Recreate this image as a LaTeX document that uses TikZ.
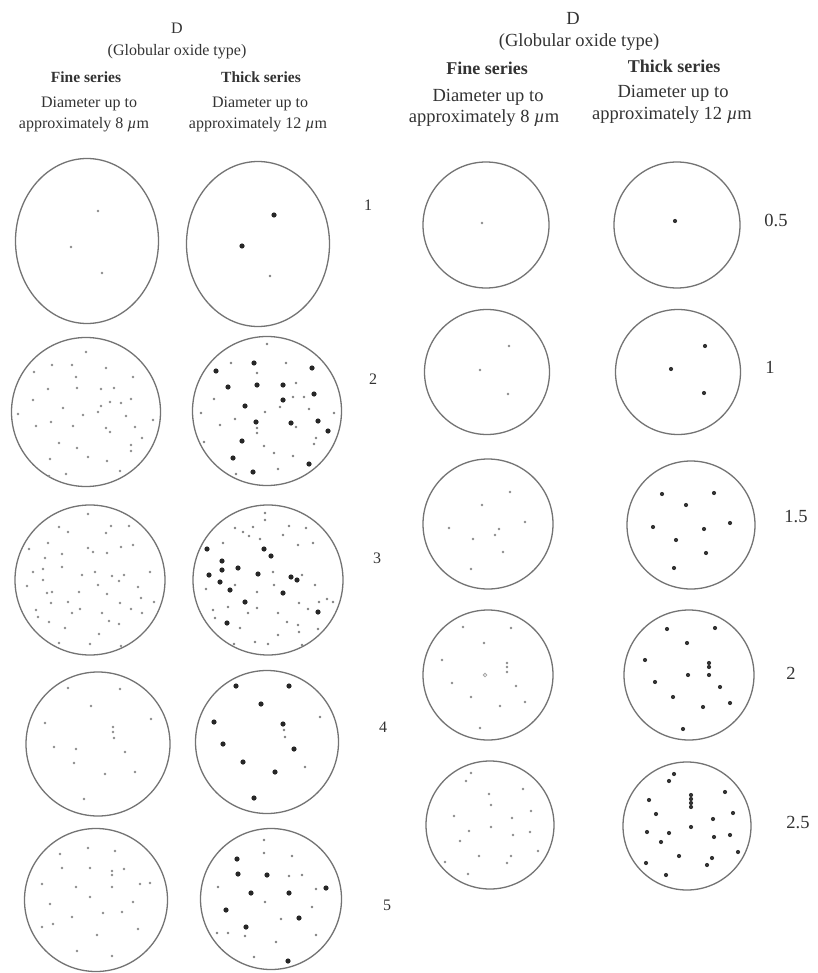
\documentclass[tikz,border=0pt]{standalone}
\usepackage{fontspec}
\setmainfont{Liberation Serif}
\tikzset{
  ring/.style={draw=black!55, line width=1.3pt},
  fdot/.style={fill=black!45},
  sdot/.style={fill=black!50},
  bdot/.style={fill=black!85},
  mdot/.style={fill=black!80},
  txt/.style={text=black!80, inner sep=0pt, align=center},
  lt/.style={txt, font=\fontsize{16}{18}\selectfont},
  lb/.style={txt, font=\fontsize{15.5}{18}\selectfont\bfseries},
  rt/.style={txt, font=\fontsize{18.5}{21}\selectfont},
  rb/.style={txt, font=\fontsize{18}{21}\selectfont\bfseries},
}
\newcommand{\fdots}[1]{\foreach \p in {#1} {\fill[fdot] \p circle (1.45pt);}}
\newcommand{\sdots}[1]{\foreach \p in {#1} {\fill[sdot] \p circle (1.45pt);}}
\newcommand{\bdots}[1]{\foreach \p in {#1} {\fill[bdot] \p circle (2.6pt);}}
\newcommand{\mdots}[1]{\foreach \p in {#1} {\fill[mdot] \p circle (2.1pt);}}
\begin{document}
\begin{tikzpicture}[x=1pt,y=-1pt]
\useasboundingbox[fill=white] (0,0) rectangle (817,973);

% ---------- left headers ----------
\node[lt] (lD) at (177,28) {D};
\node[lt] (lG) at (177,52) {(Globular oxide type)};
\node[lb] (lF) at (86,77) {Fine series};
\node[lb] (lT) at (261,77) {Thick series};
\node[lt] (lFd) at (89,104) {Diameter up to};
\node[lt] (lFa) at (84,125) {approximately 8 \textit{µ}m};
\node[lt] (lTd) at (260,104) {Diameter up to};
\node[lt] (lTa) at (258,125) {approximately 12 \textit{µ}m};

% ---------- right headers ----------
\node[rt] (rD) at (573,18) {D};
\node[rt] (rG) at (579,42) {(Globular oxide type)};
\node[rb] (rF) at (487,68) {Fine series};
\node[rb] (rT) at (674,66) {Thick series};
\node[rt] (rFd) at (488,97) {Diameter up to};
\node[rt] (rFa) at (484,118) {approximately 8 \textit{µ}m};
\node[rt] (rTd) at (673,93) {Diameter up to};
\node[rt] (rTa) at (672,115) {approximately 12 \textit{µ}m};

% ---------- left panel rings ----------
\draw[ring] (87,241) ellipse [x radius=71.5pt, y radius=82.5pt];
\draw[ring] (258,244) ellipse [x radius=71.5pt, y radius=82.5pt];
\draw[ring] (86,412) circle (74.5pt);
\draw[ring] (267,411) circle (74.5pt);
\draw[ring] (90,580) circle (75pt);
\draw[ring] (268,580) circle (75pt);
\draw[ring] (98,744) circle (72pt);
\draw[ring] (267,742) circle (71.5pt);
\draw[ring] (96,900) circle (71.5pt);
\draw[ring] (271,899) circle (70.5pt);

% left labels
\node[lt] (l1) at (368,205) {1};
\node[lt] (l2) at (373,379) {2};
\node[lt] (l3) at (377,558) {3};
\node[lt] (l4) at (383,727) {4};
\node[lt] (l5) at (387,905) {5};

% row 1
\fdots{(98,211),(71,247),(102,273)}
\bdots{(274,215),(242,246)}
\sdots{(270,276)}

% row 2 fine
\fdots{(86,352),(52,365),(72,365),(106,368),(34,372),(76,377),(133,377),(48,389),(77,388),(101,389),(114,388),(33,400),(110,402),(121,403),(131,399),(63,408),(101,406),(98,412),(18,414),(83,415),(126,416),(153,420),(36,426),(51,422),(73,426),(106,428),(110,432),(135,427),(142,438),(59,443),(77,448),(131,445),(131,451),(50,459),(88,457),(107,461),(66,474),(49,476),(120,471)}
% row 2 thick
\sdots{(267,344),(231,363),(286,363),(257,373),(296,383),(293,397),(304,397),(214,399),(265,412),(280,407),(309,409),(201,413),(334,413),(235,419),(220,425),(296,427),(257,428),(257,433),(204,442),(316,438),(314,444),(264,446),(274,453),(293,456),(278,469),(236,474)}
\bdots{(254,363),(216,371),(312,368),(228,387),(257,385),(283,385),(314,394),(283,400),(245,406),(256,422),(291,423),(318,421),(328,431),(242,441),(233,458),(309,464),(253,472)}

% row 3 fine
\fdots{(88,514),(59,527),(111,526),(129,526),(68,532),(106,533),(48,543),(88,548),(93,552),(107,553),(121,547),(133,545),(29,549),(62,554),(45,558),(33,572),(43,569),(62,567),(82,575),(95,572),(112,576),(124,575),(150,572),(43,580),(119,581),(27,586),(47,593),(52,592),(79,592),(98,585),(107,594),(138,587),(51,603),(68,602),(80,609),(102,613),(120,603),(131,609),(141,598),(154,602),(142,613),(36,610),(38,617),(49,622),(72,613),(109,621),(119,624),(65,628),(99,634),(59,643),(90,644),(121,646)}
% row 3 thick
\sdots{(265,513),(265,520),(235,528),(253,527),(289,526),(306,528),(243,532),(249,536),(260,539),(283,535),(223,543),(298,545),(313,543),(206,589),(235,585),(257,592),(273,572),(274,585),(302,575),(315,585),(319,602),(327,599),(299,603),(213,610),(228,607),(248,613),(257,608),(278,613),(215,618),(308,609),(287,622),(298,625),(299,632),(240,628),(278,635),(318,629),(234,644),(255,642),(268,644),(302,645),(333,602)}
\bdots{(207,549),(264,549),(271,556),(222,561),(209,575),(222,570),(238,568),(258,574),(220,582),(230,590),(291,577),(297,580),(283,593),(245,602),(318,612),(227,623)}

% row 4
\fdots{(68,688),(120,689),(91,706),(45,723),(151,719),(113,727),(113,732),(114,738),(54,747),(76,749),(125,752),(74,763),(135,772),(105,774),(84,799)}
\bdots{(236,686),(289,686),(261,704),(214,722),(283,724),(223,744),(294,749),(243,762),(275,772),(254,798)}
\sdots{(320,717),(284,730),(285,737),(305,767)}

% row 5
\fdots{(88,848),(115,851),(60,854),(62,868),(90,868),(112,871),(112,875),(124,869),(42,884),(76,887),(112,887),(140,884),(150,883),(90,897),(133,902),(50,904),(103,913),(122,912),(72,917),(42,927),(53,924),(138,929),(97,935),(77,951),(112,956)}
\bdots{(237,859),(238,874),(267,875),(326,888),(251,893),(289,893),(226,910),(299,918),(246,927),(288,961)}
\sdots{(264,840),(264,853),(292,856),(289,876),(302,875),(218,887),(316,889),(265,902),(312,907),(281,919),(217,933),(228,933),(245,936),(316,935),(276,942),(254,957)}

% ---------- right panel rings ----------
\draw[ring] (486,225) circle (63pt);
\draw[ring] (677,225) circle (63pt);
\draw[ring] (487,372) circle (62.5pt);
\draw[ring] (678,372) circle (62.5pt);
\draw[ring] (488,524) circle (65pt);
\draw[ring] (691,525) circle (64pt);
\draw[ring] (488,675) circle (65pt);
\draw[ring] (689,675) circle (65pt);
\draw[ring] (490,825) circle (64pt);
\draw[ring] (687,826) circle (64pt);

% right labels
\node[rt] (r05) at (776,220) {0.5};
\node[rt] (r1) at (770,367) {1};
\node[rt] (r15) at (796,517) {1.5};
\node[rt] (r2) at (791,673) {2};
\node[rt] (r25) at (798,822) {2.5};

% right dots
\fdots{(482,223)}
\mdots{(675,221)}
\fdots{(509,346),(480,370),(508,394)}
\mdots{(705,346),(671,369),(704,393)}
\fdots{(510,492),(482,505),(449,528),(525,522),(499,529),(473,539),(495,535),(503,552),(471,569)}
\mdots{(662,494),(714,493),(686,505),(653,527),(730,523),(704,529),(676,540),(706,553),(674,568)}
\fdots{(463,627),(511,628),(484,643),(442,660),(507,663),(507,667),(507,672),(452,683),(516,686),(471,697),(525,702),(500,706),(480,728)}
\draw[black!35, line width=0.8pt] (485,675) circle (1.8pt);
\mdots{(667,629),(715,628),(687,643),(645,660),(709,663),(709,667),(709,675),(688,675),(655,682),(720,687),(673,697),(730,703),(703,707),(683,729)}
\fdots{(471,773),(466,781),(489,794),(523,789),(491,805),(454,816),(531,811),(512,818),(491,827),(469,831),(513,835),(530,832),(460,841),(538,851),(479,856),(511,856),(445,862),(507,863),(468,874)}
\mdots{(674,774),(669,781),(691,795),(691,799),(691,803),(691,807),(725,792),(649,800),(656,814),(733,813),(713,819),(691,827),(647,832),(669,833),(730,835),(714,837),(661,842),(738,852),(679,856),(712,858),(646,863),(707,865),(666,875)}
\end{tikzpicture}
\end{document}
